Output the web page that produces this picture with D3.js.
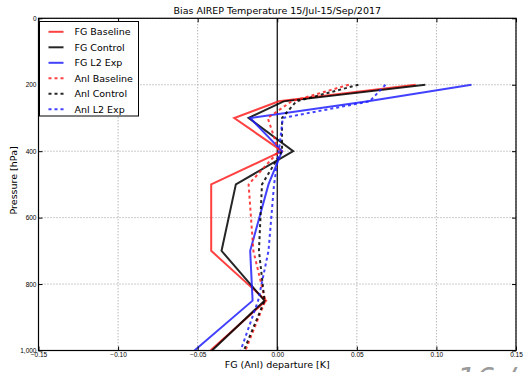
<!DOCTYPE html>
<html>
<head>
<meta charset="utf-8">
<script src="https://cdn.jsdelivr.net/npm/d3@7"></script>
<style>
  body { margin: 0; background: white; }
  svg { font-family: "DejaVu Sans", sans-serif; }
</style>
</head>
<body>
<div id="chart"></div>
<script>
// pressure levels (hPa)
var levels = [200, 250, 300, 400, 500, 700, 850, 1000];

// bias per level
var fgBaseline  = [0.087, 0.001, -0.027, 0.003, -0.0415, -0.0415, -0.007, -0.042];
var fgControl   = [0.093, 0.004, -0.018, 0.010, -0.026, -0.035, -0.008, -0.041];
var fgL2Exp     = [0.122, 0.057, -0.017, 0.003, -0.0055, -0.017, -0.0155, -0.052];
var anlBaseline = [0.045, 0.009, -0.006, 0.001, -0.018, -0.015, -0.0075, -0.020];
var anlControl  = [0.051, 0.012, 0.003, 0.003, -0.0096, -0.0115, -0.008, -0.021];
var anlL2Exp    = [0.068, 0.058, 0.0035, 0.001, -0.002, -0.0055, -0.012, -0.023];

var seriesNames = ['FG Baseline', 'FG Control', 'FG L2 Exp', 'Anl Baseline', 'Anl Control', 'Anl L2 Exp'];
var seriesValues = [fgBaseline, fgControl, fgL2Exp, anlBaseline, anlControl, anlL2Exp];

var xTicks = [-0.15, -0.10, -0.05, 0.00, 0.05, 0.10, 0.15];
var yTicks = [0, 200, 400, 600, 800, 1000];

var colors = ['#ff2020', '#000000', '#2020ff', '#ff2020', '#000000', '#2020ff'];

function drawChart() {
  const width = 525, height = 372;
  const margin = { top: 18.3, right: 9, bottom: 21.5, left: 38.5 };

  const svg = d3.select('#chart')
    .append('svg')
    .attr('width', width)
    .attr('height', height)
    .style('background', 'white');

  const xScale = d3.scaleLinear()
    .domain([-0.15, 0.15])
    .range([margin.left, width - margin.right]);

  const yScale = d3.scaleLinear()
    .domain([0, 1000])
    .range([margin.top, height - margin.bottom]);

  // grid
  svg.append('g')
    .selectAll('line')
    .data(xTicks.filter(d => d !== 0))
    .enter()
    .append('line')
      .attr('x1', d => xScale(d)).attr('x2', d => xScale(d))
      .attr('y1', yScale(0)).attr('y2', yScale(1000))
      .attr('stroke', '#999').attr('stroke-width', 1)
      .attr('stroke-dasharray', '1,2');

  svg.append('g')
    .selectAll('line')
    .data(yTicks)
    .enter()
    .append('line')
      .attr('x1', xScale(-0.15)).attr('x2', xScale(0.15))
      .attr('y1', d => yScale(d)).attr('y2', d => yScale(d))
      .attr('stroke', '#999').attr('stroke-width', 1)
      .attr('stroke-dasharray', '1,2');

  // zero line
  svg.append('line')
    .attr('x1', xScale(0)).attr('x2', xScale(0))
    .attr('y1', yScale(0)).attr('y2', yScale(1000))
    .attr('stroke', 'black').attr('stroke-width', 1.2);

  // lines
  const line = d3.line()
    .x(d => xScale(d[0]))
    .y(d => yScale(d[1]));

  seriesValues.forEach(function(vals, i) {
    var pts = vals.map((v, j) => [v, levels[j]]);
    svg.append('path')
      .datum(pts)
      .attr('d', line)
      .attr('fill', 'none')
      .attr('stroke', colors[i])
      .attr('stroke-width', 2)
      .attr('stroke-opacity', 0.85)
      .attr('stroke-dasharray', i >= 3 ? '3,3' : null);
  });

  // axes
  const xAxis = d3.axisBottom(xScale)
    .tickValues(xTicks)
    .tickSize(-4)
    .tickPadding(2)
    .tickFormat(d3.format('.2f'));

  const xAxisTop = d3.axisTop(xScale)
    .tickValues(xTicks)
    .tickSize(-4)
    .tickFormat('');

  const yAxis = d3.axisLeft(yScale)
    .tickValues(yTicks)
    .tickSize(-4)
    .tickPadding(2);

  const yAxisRight = d3.axisRight(yScale)
    .tickValues(yTicks)
    .tickSize(-4)
    .tickFormat('');

  function styleAxis(g) {
    g.select('.domain').remove();
    g.selectAll('text').style('font-size', '6.5px').attr('fill', 'black');
  }

  svg.append('g')
    .attr('transform', `translate(0, ${yScale(1000)})`)
    .call(xAxis).call(styleAxis);
  svg.append('g')
    .attr('transform', `translate(0, ${yScale(0)})`)
    .call(xAxisTop).call(styleAxis);
  svg.append('g')
    .attr('transform', `translate(${xScale(-0.15)}, 0)`)
    .call(yAxis).call(styleAxis);
  svg.append('g')
    .attr('transform', `translate(${xScale(0.15)}, 0)`)
    .call(yAxisRight).call(styleAxis);

  // frame
  svg.append('rect')
    .attr('x', xScale(-0.15)).attr('y', yScale(0))
    .attr('width', xScale(0.15) - xScale(-0.15))
    .attr('height', yScale(1000) - yScale(0))
    .attr('fill', 'none').attr('stroke', 'black').attr('stroke-width', 1.2);

  // title + labels
  svg.append('text')
    .attr('x', (xScale(-0.15) + xScale(0.15)) / 2)
    .attr('y', 14)
    .attr('text-anchor', 'middle')
    .style('font-size', '9.5px')
    .text('Bias AIREP Temperature 15/Jul-15/Sep/2017');

  svg.append('text')
    .attr('x', (xScale(-0.15) + xScale(0.15)) / 2)
    .attr('y', 367.5)
    .attr('text-anchor', 'middle')
    .style('font-size', '9.5px')
    .text('FG (Anl) departure [K]');

  svg.append('text')
    .attr('text-anchor', 'middle')
    .attr('transform', `translate(17, ${(yScale(0) + yScale(1000)) / 2 - 4}) rotate(-90)`)
    .style('font-size', '9.5px')
    .text('Pressure [hPa]');

  // legend
  const lg = svg.append('g').attr('transform', 'translate(39.5, 21.5)');
  lg.append('rect')
    .attr('width', 99).attr('height', 94.5)
    .attr('fill', 'white').attr('stroke', 'black').attr('stroke-width', 1);

  seriesNames.forEach(function(name, i) {
    var yy = 10.3 + i * 15.5;
    lg.append('line')
      .attr('x1', 9).attr('x2', 24)
      .attr('y1', yy).attr('y2', yy)
      .attr('stroke', colors[i])
      .attr('stroke-width', 2)
      .attr('stroke-opacity', 0.85)
      .attr('stroke-dasharray', i >= 3 ? '3,3' : null);
    lg.append('text')
      .attr('x', 35).attr('y', yy + 3.5)
      .style('font-size', '9.5px')
      .text(name);
  });

  // slide page number peeking in at the corner
  svg.append('text')
    .attr('x', 457).attr('y', 389)
    .style('font-size', '30px')
    .style('font-style', 'italic')
    .attr('fill', '#9a9a9a')
    .text('16 / 30');
}

drawChart();
</script>
</body>
</html>
